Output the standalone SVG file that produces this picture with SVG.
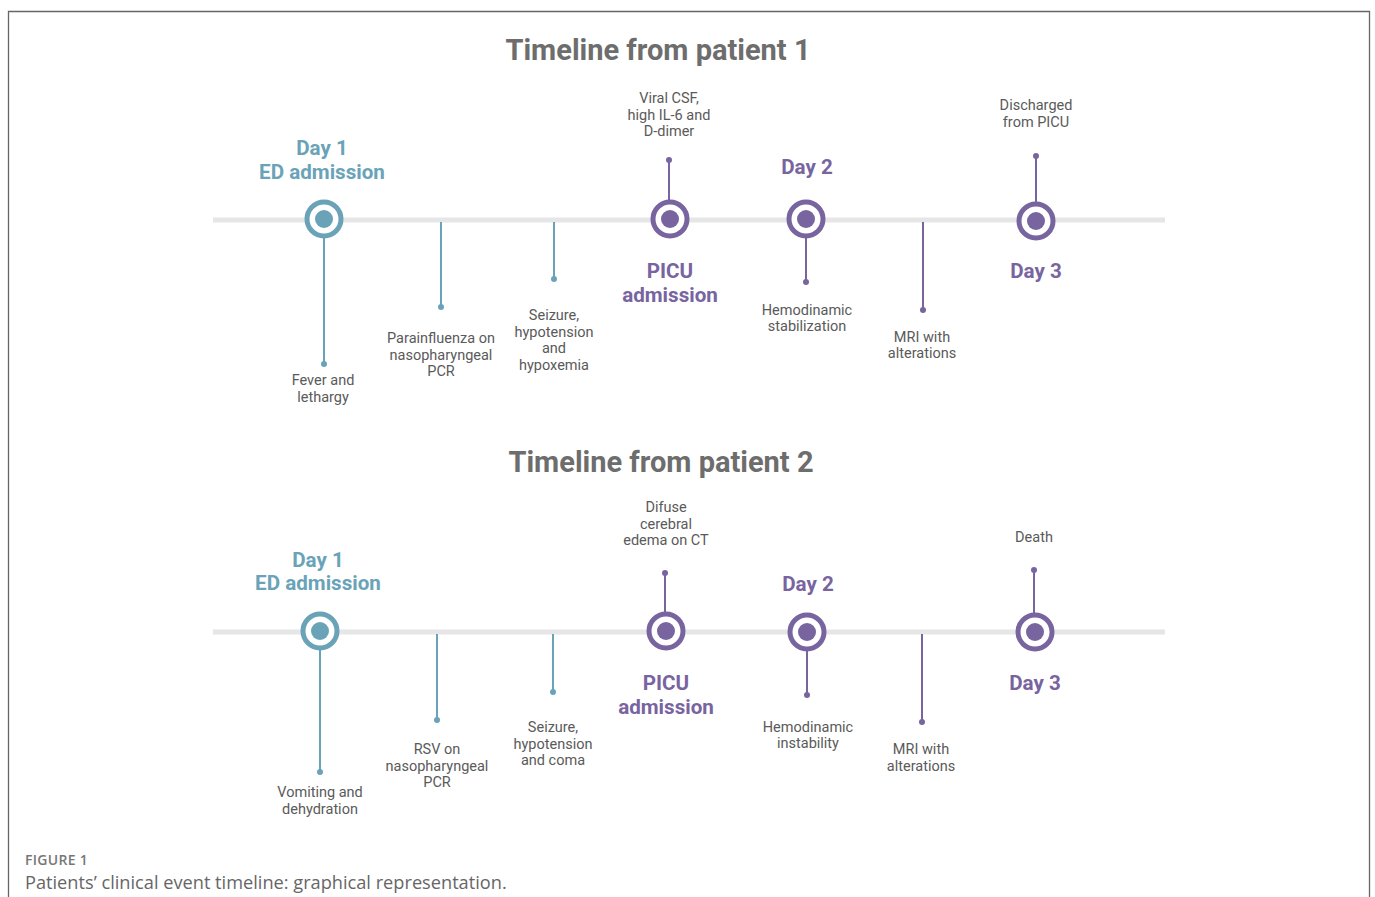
<svg xmlns="http://www.w3.org/2000/svg" width="1375" height="897" viewBox="0 0 1375 897">
<style>
.title{font-family:Roboto,"Liberation Sans",sans-serif;font-weight:700;font-size:29px;fill:#6d6d6d;text-anchor:middle}
.head{font-family:Roboto,"Liberation Sans",sans-serif;font-weight:700;font-size:20.6px;text-anchor:middle}
.lbl{font-family:Roboto,"Liberation Sans",sans-serif;font-size:14.5px;fill:#5a5a5a;text-anchor:middle}
.teal{fill:#6aa3b8}
.purp{fill:#78649f}
.tl{stroke:#e6e6e6;stroke-width:5}
.ringT{fill:#fff;stroke:#6aa3b8;stroke-width:5}
.ringP{fill:#fff;stroke:#78649f;stroke-width:5}
.stT{stroke:#6aa3b8;stroke-width:2}
.stP{stroke:#78649f;stroke-width:2}
.cap1{font-family:"Open Sans","Liberation Sans",sans-serif;font-size:14px;font-weight:600;fill:#777;letter-spacing:0.3px}
.cap2{font-family:"Open Sans","Liberation Sans",sans-serif;font-size:18.2px;font-weight:400;fill:#666}
</style>
<rect width="1375" height="897" fill="#fff"/>
<path d="M8.5 897 V11.5 H1369.5 V897" fill="none" stroke="#666" stroke-width="1.3"/>

<!-- Patient 1 -->
<text class="title" x="658" y="60">Timeline from patient 1</text>
<g id="connectors1">
<line class="tl" x1="213" y1="220" x2="1165" y2="220"/>
<line class="stT" x1="324" y1="236" x2="324" y2="364"/><circle class="teal" cx="324" cy="364" r="3"/>
<line class="stT" x1="441" y1="222" x2="441" y2="307"/><circle class="teal" cx="441" cy="307" r="3"/>
<line class="stT" x1="554" y1="222" x2="554" y2="279"/><circle class="teal" cx="554" cy="279" r="3"/>
<line class="stP" x1="669" y1="202" x2="669" y2="160"/><circle class="purp" cx="669" cy="160" r="3"/>
<line class="stP" x1="806" y1="236" x2="806" y2="282"/><circle class="purp" cx="806" cy="282" r="3"/>
<line class="stP" x1="923" y1="222" x2="923" y2="310"/><circle class="purp" cx="923" cy="310" r="3"/>
<line class="stP" x1="1036" y1="204" x2="1036" y2="156"/><circle class="purp" cx="1036" cy="156" r="3"/>
</g>
<g id="p1-day1">
<circle class="ringT" cx="324" cy="219" r="17"/><circle class="teal" cx="324" cy="219" r="9"/>
<text class="head teal" x="322" y="155">Day 1</text>
<text class="head teal" x="322" y="179">ED admission</text>
<text class="lbl" x="323" y="385">Fever and</text><text class="lbl" x="323" y="402">lethargy</text>
</g>
<g id="p1-parainfluenza">
<text class="lbl" x="441" y="343">Parainfluenza on</text><text class="lbl" x="441" y="360">nasopharyngeal</text><text class="lbl" x="441" y="376">PCR</text>
</g>
<g id="p1-seizure">
<text class="lbl" x="554" y="320">Seizure,</text><text class="lbl" x="554" y="337">hypotension</text><text class="lbl" x="554" y="353">and</text><text class="lbl" x="554" y="370">hypoxemia</text>
</g>
<g id="p1-picu">
<circle class="ringP" cx="670" cy="219" r="17"/><circle class="purp" cx="670" cy="219" r="9"/>
<text class="lbl" x="669" y="103">Viral CSF,</text><text class="lbl" x="669" y="120">high IL-6 and</text><text class="lbl" x="669" y="136">D-dimer</text>
<text class="head purp" x="670" y="278">PICU</text><text class="head purp" x="670" y="302">admission</text>
</g>
<g id="p1-day2">
<circle class="ringP" cx="806" cy="219" r="17"/><circle class="purp" cx="806" cy="219" r="9"/>
<text class="head purp" x="807" y="174">Day 2</text>
<text class="lbl" x="807" y="315">Hemodinamic</text><text class="lbl" x="807" y="331">stabilization</text>
</g>
<g id="p1-mri">
<text class="lbl" x="922" y="342">MRI with</text><text class="lbl" x="922" y="358">alterations</text>
</g>
<g id="p1-day3">
<circle class="ringP" cx="1036" cy="221" r="17"/><circle class="purp" cx="1036" cy="221" r="9"/>
<text class="lbl" x="1036" y="110">Discharged</text><text class="lbl" x="1036" y="127">from PICU</text>
<text class="head purp" x="1036" y="278">Day 3</text>
</g>

<!-- Patient 2 -->
<text class="title" x="661" y="472">Timeline from patient 2</text>
<g id="connectors2">
<line class="tl" x1="213" y1="632" x2="1165" y2="632"/>
<line class="stT" x1="320" y1="648" x2="320" y2="772"/><circle class="teal" cx="320" cy="772" r="3"/>
<line class="stT" x1="437" y1="634" x2="437" y2="720"/><circle class="teal" cx="437" cy="720" r="3"/>
<line class="stT" x1="553" y1="634" x2="553" y2="692"/><circle class="teal" cx="553" cy="692" r="3"/>
<line class="stP" x1="665" y1="614" x2="665" y2="573"/><circle class="purp" cx="665" cy="573" r="3"/>
<line class="stP" x1="807" y1="649" x2="807" y2="695"/><circle class="purp" cx="807" cy="695" r="3"/>
<line class="stP" x1="922" y1="634" x2="922" y2="722"/><circle class="purp" cx="922" cy="722" r="3"/>
<line class="stP" x1="1034" y1="615" x2="1034" y2="570"/><circle class="purp" cx="1034" cy="570" r="3"/>
</g>
<g id="p2-day1">
<circle class="ringT" cx="320" cy="631" r="17"/><circle class="teal" cx="320" cy="631" r="9"/>
<text class="head teal" x="318" y="567">Day 1</text>
<text class="head teal" x="318" y="590">ED admission</text>
<text class="lbl" x="320" y="797">Vomiting and</text><text class="lbl" x="320" y="814">dehydration</text>
</g>
<g id="p2-rsv">
<text class="lbl" x="437" y="754">RSV on</text><text class="lbl" x="437" y="771">nasopharyngeal</text><text class="lbl" x="437" y="787">PCR</text>
</g>
<g id="p2-seizure">
<text class="lbl" x="553" y="732">Seizure,</text><text class="lbl" x="553" y="749">hypotension</text><text class="lbl" x="553" y="765">and coma</text>
</g>
<g id="p2-picu">
<circle class="ringP" cx="666" cy="631" r="17"/><circle class="purp" cx="666" cy="631" r="9"/>
<text class="lbl" x="666" y="512">Difuse</text><text class="lbl" x="666" y="529">cerebral</text><text class="lbl" x="666" y="545">edema on CT</text>
<text class="head purp" x="666" y="690">PICU</text><text class="head purp" x="666" y="714">admission</text>
</g>
<g id="p2-day2">
<circle class="ringP" cx="807" cy="632" r="17"/><circle class="purp" cx="807" cy="632" r="9"/>
<text class="head purp" x="808" y="591">Day 2</text>
<text class="lbl" x="808" y="732">Hemodinamic</text><text class="lbl" x="808" y="748">instability</text>
</g>
<g id="p2-mri">
<text class="lbl" x="921" y="754">MRI with</text><text class="lbl" x="921" y="771">alterations</text>
</g>
<g id="p2-day3">
<circle class="ringP" cx="1035" cy="632" r="17"/><circle class="purp" cx="1035" cy="632" r="9"/>
<text class="lbl" x="1034" y="542">Death</text>
<text class="head purp" x="1035" y="690">Day 3</text>
</g>

<text class="cap1" x="25" y="865">FIGURE 1</text>
<text class="cap2" x="25" y="889">Patients’ clinical event timeline: graphical representation.</text>
</svg>
